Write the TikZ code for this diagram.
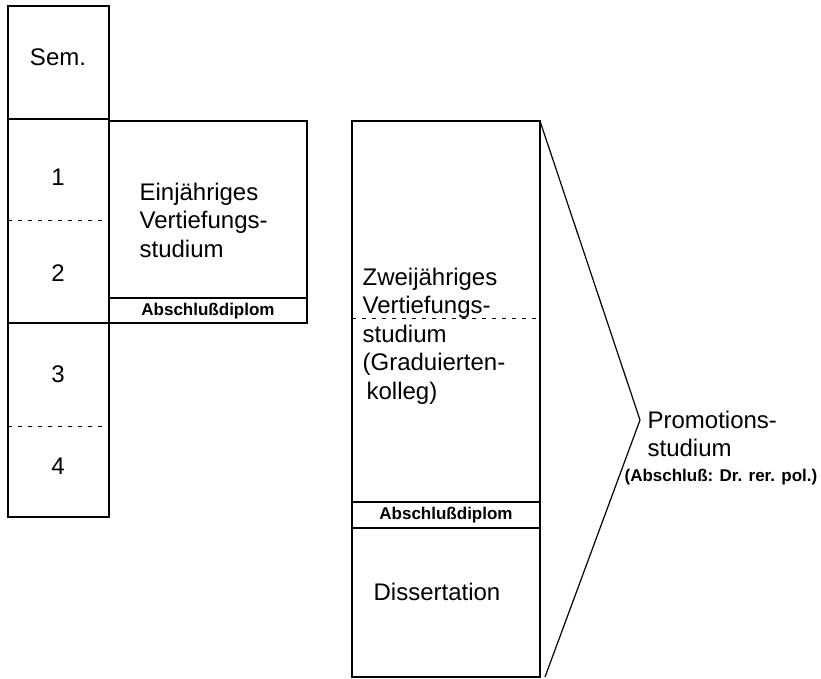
\documentclass[tikz,border=0pt]{standalone}
\usepackage{fontspec}
\setmainfont{Liberation Sans}
\usetikzlibrary{positioning}

\begin{document}
\begin{tikzpicture}
    [x=1pt, y=-1pt,
    line width=1.2pt,
    frame/.style={draw, line width=1.2pt},
    semline/.style={dash pattern=on 4pt off 6pt, line width=1pt},
    big/.style={inner sep=0pt, font=\fontsize{24}{28.5}\selectfont},
    small/.style={inner sep=0pt, font=\fontsize{17}{20}\selectfont\bfseries}]
    \useasboundingbox (0,0) rectangle (821,678);
        %% Semester column
    \draw[frame] (8,6) rectangle (109,517);
    \draw (8,119) -- (109,119);
    \draw (8,323) -- (109,323);
    \draw[semline] (8,220) -- (109,220);
    \draw[semline] (8,426) -- (109,426);
    \node[big] (sem) at (58,57) {Sem.};
    \node[big] (s1) at (58,177) {1};
    \node[big] (s2) at (58,273) {2};
    \node[big] (s3) at (58,374) {3};
    \node[big] (s4) at (58,466) {4};

        %% One-year course
    \draw[frame] (109,121) rectangle (307,323);
    \draw (109,298) -- (307,298);
    \node[big, anchor=west, align=left] (ein) at (139,220) {Einjähriges\\Vertiefungs-\\studium};
    \node[small] (ab1) at (208,311) {Abschlußdiplom};

        %% Two-year course
    \draw[frame] (352,121) rectangle (540,677);
    \draw[semline] (352,318) -- (540,318);
    \draw (352,502) -- (540,502);
    \draw (352,528) -- (540,528);
    \node[big, anchor=west, align=left] (zwei) at (362,336)
        {Zweijähriges\\Vertiefungs-\\studium\\(Graduierten-\\\hspace{4pt}kolleg)};
    \node[small] (ab2) at (446,515) {Abschlußdiplom};
    \node[big, anchor=west] (diss) at (373,592) {Dissertation};

        %% Promotion
    \coordinate (top) at (540,121);
    \coordinate (tip) at (640,420);
    \coordinate (bot) at (545,677);
    \draw (top) -- (tip) -- (bot);
    \node[big, anchor=west, align=left] (prom) at (647,434) {Promotions-\\studium};
    \node[small, anchor=west] (dr) at (624,477) {(Abschluß: Dr. rer. pol.)};
\end{tikzpicture}
\end{document}
